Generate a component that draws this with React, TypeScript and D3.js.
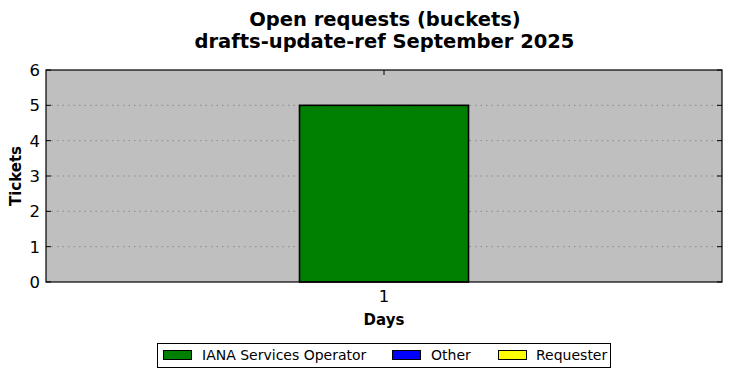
import React from "react";
import * as d3 from "d3";

const categories = [1];
const seriesNames = ["IANA Services Operator", "Other", "Requester"];
const seriesColors = ["#008000", "#0000ff", "#ffff00"];
const ianaValues = [5];
const otherValues = [0];
const requesterValues = [0];
const yTicks = [0, 1, 2, 3, 4, 5, 6];

const W = 732, H = 378;
const L = 46, R = 722, T = 70, B = 282;

export default function App() {
  const x = d3.scaleLinear().domain([0, 2]).range([L, R]);
  const y = d3.scaleLinear().domain([0, 6]).range([B, T]);
  const barW = 0.5;
  const font = "DejaVu Sans, sans-serif";
  const stacks = categories.map((c, i) => {
    const vals = [ianaValues[i], otherValues[i], requesterValues[i]];
    let acc = 0;
    return vals.map((v, k) => {
      const y0 = acc;
      acc += v;
      return { c, k, y0, y1: acc, v };
    });
  });
  const legendItems = [
    { sx: 163, tx: 202 },
    { sx: 392, tx: 431 },
    { sx: 498, tx: 536 },
  ];
  return (
    <svg width={W} height={H} style={{ position: "absolute", left: 0, top: 0 }} fontFamily={font}>
      <rect x={0} y={0} width={W} height={H} fill="#fff" />
      <text x={385} y={25.5} textAnchor="middle" fontSize={19.5} fontWeight="bold">Open requests (buckets)</text>
      <text x={384.5} y={47.5} textAnchor="middle" fontSize={19.5} fontWeight="bold">drafts-update-ref September 2025</text>
      <rect x={L} y={T} width={R - L} height={B - T} fill="#bfbfbf" />
      {yTicks.slice(1, -1).map((t) => (
        <line key={t} x1={L} x2={R} y1={y(t)} y2={y(t)} stroke="#8a8a8a" strokeWidth={1} strokeDasharray="1.5,4" />
      ))}
      {categories.map((c) => (
        <g key={c}>
          <line x1={x(c)} x2={x(c)} y1={B} y2={B - 5} stroke="#000" />
          <line x1={x(c)} x2={x(c)} y1={T} y2={T + 5} stroke="#000" />
          <text x={x(c)} y={B + 20} textAnchor="middle" fontSize={16.5}>{c}</text>
        </g>
      ))}
      {stacks.flat().filter((s) => s.v > 0).map((s) => (
        <rect key={s.k} x={x(s.c - barW / 2)} y={y(s.y1)} width={x(s.c + barW / 2) - x(s.c - barW / 2)} height={y(s.y0) - y(s.y1)}
          fill={seriesColors[s.k]} stroke="#000" strokeWidth={1.6} />
      ))}
      <rect x={L} y={T} width={R - L} height={B - T} fill="none" stroke="#000" strokeWidth={1.2} />
      {yTicks.map((t) => (
        <g key={t}>
          <line x1={L} x2={L + 5} y1={y(t)} y2={y(t)} stroke="#000" />
          <line x1={R - 5} x2={R} y1={y(t)} y2={y(t)} stroke="#000" />
          <text x={L - 6} y={y(t) + 6} textAnchor="end" fontSize={16.5}>{t}</text>
        </g>
      ))}
      <text x={(L + R) / 2} y={325} textAnchor="middle" fontSize={15} fontWeight="bold">Days</text>
      <text transform={`translate(21,${(T + B) / 2}) rotate(-90)`} textAnchor="middle" fontSize={15} fontWeight="bold">Tickets</text>
      <rect x={157.5} y={343.5} width={453} height={24} fill="#fff" stroke="#000" strokeWidth={1} />
      {seriesNames.map((n, i) => (
        <g key={n}>
          <rect x={legendItems[i].sx + 0.5} y={350.5} width={28} height={9} fill={seriesColors[i]} stroke="#000" />
          <text x={legendItems[i].tx} y={360} fontSize={14}>{n}</text>
        </g>
      ))}
    </svg>
  );
}
